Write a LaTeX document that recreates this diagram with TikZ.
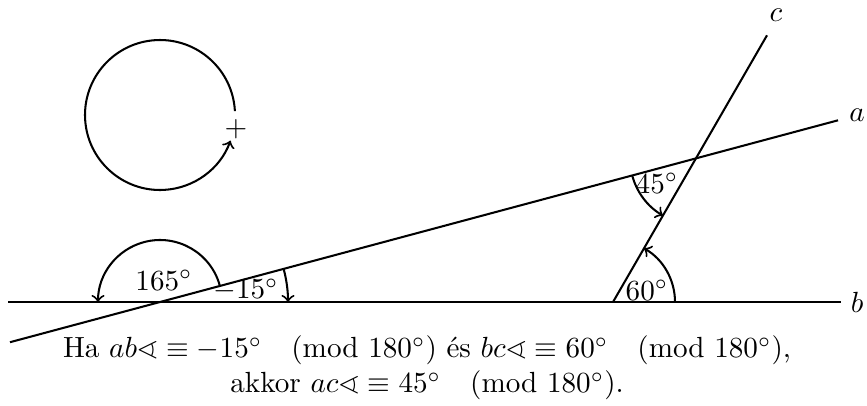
\documentclass[tikz,border=0pt]{standalone}
\usepackage{amssymb}
\usetikzlibrary{calc}
\begin{document}
\begin{tikzpicture}[x=0.343pt,y=0.343pt,
  line/.style={line width=0.7pt},
  arr/.style={line width=0.7pt,->},
  lbl/.style={inner sep=0pt}]
\useasboundingbox (0,0) rectangle (867,405);
\coordinate (O1) at (160,103);
\coordinate (O2) at (613,103);
\coordinate (bL) at (8,103);
\coordinate (bR) at (841,103);
\coordinate (aL) at (10,62.8);
\coordinate (aR) at (838,284.7);
\coordinate (cT) at (767,369.7);
\coordinate (O3) at (intersection of aL--aR and O2--cT);
\coordinate (C) at (160,290);
% lines
\draw[line] (bL) -- (bR);
\draw[line] (aL) -- (aR);
\draw[line] (O2) -- (cT);
\node (la) at (857,290) {$a$};
\node (lb) at (857,103) {$b$};
\node (lc) at (776,390) {$c$};
% orientation circle
\draw[arr] ($(C)+(3:75)$) arc[start angle=3,end angle=340,radius=75];
\node[lbl] (plus) at (236,276) {$+$};
% angle arcs
\draw[arr] ($(O1)+(15:62)$) arc[start angle=15,end angle=180,radius=62];
\draw[arr] ($(O1)+(15:128)$) arc[start angle=15,end angle=0,radius=128];
\draw[arr] ($(O2)+(0:62)$) arc[start angle=0,end angle=60,radius=62];
\draw[arr] ($(O3)+(195:66)$) arc[start angle=195,end angle=240,radius=66];
\node[lbl] (l165) at (164,125) {$165^\circ$};
\node[lbl] (l15) at (246,115) {$-15^\circ$};
\node[lbl] (l60) at (647,115) {$60^\circ$};
\node[lbl] (l45) at (657,222) {$45^\circ$};
% text
\node[align=center] (txt) at (427,37) {Ha $ab\sphericalangle\equiv-15^\circ\pmod{180^\circ}$ és $bc\sphericalangle\equiv 60^\circ\pmod{180^\circ}$,\\ akkor $ac\sphericalangle\equiv45^\circ\pmod{180^\circ}$.};
\end{tikzpicture}
\end{document}
